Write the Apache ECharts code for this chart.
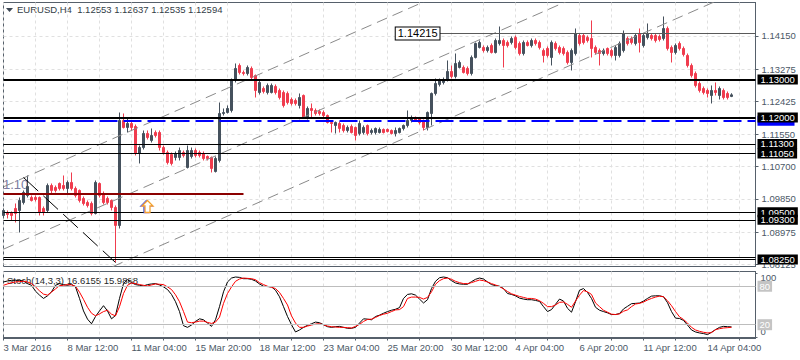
<!DOCTYPE html>
<html><head><meta charset="utf-8">
<script src="https://cdn.jsdelivr.net/npm/echarts@6/dist/echarts.min.js"></script>
<style>html,body{margin:0;padding:0;background:#fff}#c{width:800px;height:360px}</style>
</head><body><div id="c"></div>
<script>
const symbolName = 'EURUSD,H4';
const xTickLabels = ['3 Mar 2016','8 Mar 12:00','11 Mar 04:00','15 Mar 20:00','18 Mar 12:00','23 Mar 04:00','25 Mar 20:00','30 Mar 12:00','4 Apr 04:00','6 Apr 20:00','11 Apr 12:00','14 Apr 04:00'];
const priceTicks = [1.1415, 1.13275, 1.12425, 1.1155, 1.107, 1.0985, 1.08975, 1.08125];
const stochTicks = [0, 100];

const opens = [
1.09413,1.09492,1.09492,1.09598,1.09545,1.09756,1.09941,1.09888,1.09888,1.09888,
1.09598,1.09545,1.10204,1.10152,1.10257,1.10204,1.10125,1.10284,1.10125,1.10073,
1.09862,1.09756,1.09730,1.09466,1.10257,1.09994,1.09862,1.09809,1.09624,1.09150,
1.11919,1.11734,1.11839,1.11760,1.11048,1.11206,1.11576,1.11391,1.11602,1.11602,
1.11206,1.11075,1.11022,1.10943,1.10943,1.11075,1.10679,1.10969,1.11127,1.11075,
1.11048,1.10969,1.10943,1.10574,1.10864,1.12103,1.12129,1.12182,1.12973,1.13369,
1.13184,1.13158,1.13290,1.13105,1.12657,1.12762,1.12657,1.12657,1.12815,1.12710,
1.12657,1.12631,1.12472,1.12446,1.12314,1.12578,1.11998,1.12235,1.12182,1.12156,
1.12129,1.12050,1.11866,1.11787,1.11839,1.11787,1.11655,1.11760,1.11734,1.11576,
1.11602,1.11787,1.11602,1.11602,1.11602,1.11681,1.11681,1.11655,1.11576,1.11602,
1.11708,1.11787,1.11919,1.11998,1.11971,1.11919,1.11734,1.12103,1.12631,1.12868,
1.12921,1.12973,1.13211,1.13079,1.13316,1.13316,1.13290,1.13158,1.13580,1.13844,
1.13844,1.13764,1.13896,1.13712,1.13949,1.14028,1.13975,1.13975,1.14107,1.13949,
1.13685,1.13975,1.13896,1.14028,1.13975,1.13764,1.13817,1.13580,1.13949,1.13844,
1.13817,1.13712,1.13448,1.13685,1.14160,1.14160,1.14107,1.14081,1.13844,1.13764,
1.13685,1.13817,1.13764,1.13633,1.13633,1.13764,1.14081,1.14081,1.13949,1.14213,
1.13896,1.14107,1.14160,1.14160,1.14134,1.14081,1.14345,1.13844,1.13712,1.13949,
1.13817,1.13633,1.13369,1.13158,1.12894,1.12762,1.12710,1.12578,1.12710,1.12578,
1.12710,1.12631,1.12553];
const closes = [
1.09545,1.09440,1.09413,1.09466,1.09809,1.10020,1.10178,1.09809,1.09835,1.09492,
1.09492,1.10204,1.10073,1.10073,1.10125,1.10125,1.10284,1.10125,1.09941,1.09809,
1.09730,1.09677,1.09466,1.10284,1.09941,1.09756,1.09756,1.09624,1.09150,1.11919,
1.11734,1.11839,1.11734,1.11048,1.11206,1.11576,1.11470,1.11523,1.11523,1.11206,
1.11075,1.10811,1.10785,1.11048,1.11127,1.10996,1.11127,1.11127,1.10996,1.10996,
1.10916,1.10916,1.10653,1.10916,1.12103,1.12129,1.12235,1.12973,1.13290,1.13184,
1.13158,1.13316,1.13052,1.12710,1.12921,1.12683,1.12842,1.12842,1.12657,1.12525,
1.12314,1.12393,1.12367,1.12367,1.12525,1.11998,1.12235,1.12182,1.12103,1.12103,
1.12050,1.11866,1.11839,1.11866,1.11708,1.11655,1.11734,1.11602,1.11523,1.11839,
1.11734,1.11576,1.11655,1.11708,1.11681,1.11602,1.11628,1.11576,1.11655,1.11708,
1.11787,1.11919,1.11971,1.11919,1.11866,1.11734,1.12129,1.12631,1.12894,1.12973,
1.13000,1.13211,1.13079,1.13422,1.13448,1.13184,1.13158,1.13580,1.13949,1.13975,
1.13764,1.13844,1.13712,1.14028,1.14028,1.13896,1.13896,1.14081,1.13844,1.13685,
1.13975,1.13896,1.14028,1.13949,1.13844,1.13633,1.13633,1.13975,1.13817,1.13712,
1.13685,1.13448,1.13764,1.14213,1.13949,1.13975,1.14028,1.13817,1.13712,1.13685,
1.13764,1.13685,1.13633,1.13844,1.13949,1.14213,1.13949,1.13975,1.14160,1.13975,
1.14160,1.14213,1.14081,1.14028,1.14055,1.14345,1.13817,1.13712,1.13896,1.13817,
1.13659,1.13369,1.13105,1.12842,1.12710,1.12657,1.12631,1.12710,1.12657,1.12762,
1.12525,1.12525,1.12594];
const lows = [
1.09360,1.09334,1.09281,1.09229,1.08965,1.09703,1.09888,1.09782,1.09782,1.09413,
1.09413,1.09492,1.09994,1.10020,1.10073,1.10073,1.09994,1.10073,1.09888,1.09756,
1.09677,1.09624,1.09413,1.09440,1.09888,1.09703,1.09703,1.09545,1.08174,1.09070,
1.11708,1.11602,1.11655,1.10996,1.10785,1.11154,1.11417,1.11338,1.11470,1.11127,
1.11022,1.10758,1.10732,1.10864,1.10864,1.10943,1.10653,1.10916,1.10943,1.10943,
1.10864,1.10864,1.10547,1.10547,1.10811,1.12050,1.12103,1.12129,1.12921,1.13132,
1.13105,1.13105,1.13000,1.12525,1.12604,1.12631,1.12604,1.12631,1.12604,1.12472,
1.12261,1.12340,1.12314,1.12314,1.12235,1.11971,1.11945,1.11998,1.12050,1.12050,
1.11998,1.11839,1.11602,1.11576,1.11602,1.11602,1.11602,1.11576,1.11391,1.11523,
1.11549,1.11523,1.11549,1.11549,1.11576,1.11576,1.11602,1.11549,1.11497,1.11576,
1.11655,1.11734,1.11866,1.11892,1.11813,1.11655,1.11655,1.11787,1.12578,1.12815,
1.12868,1.12947,1.13026,1.13026,1.13290,1.13158,1.13105,1.13105,1.13554,1.13817,
1.13712,1.13712,1.13685,1.13685,1.13896,1.13316,1.13844,1.13923,1.13791,1.13633,
1.13633,1.13870,1.13844,1.13896,1.13791,1.13448,1.13580,1.13369,1.13764,1.13659,
1.13633,1.13395,1.13237,1.13633,1.13896,1.13923,1.13975,1.13580,1.13659,1.13369,
1.13633,1.13633,1.13580,1.13501,1.13580,1.13712,1.13896,1.13923,1.13896,1.13712,
1.13844,1.14055,1.14028,1.13975,1.14002,1.14028,1.13764,1.13448,1.13659,1.13764,
1.13606,1.13316,1.13052,1.12789,1.12657,1.12604,1.12525,1.12367,1.12578,1.12472,
1.12472,1.12472,1.12535];
const highs = [
1.09598,1.09545,1.09519,1.09730,1.09888,1.10073,1.10468,1.09941,1.09941,1.09915,
1.09651,1.10257,1.10257,1.10204,1.10284,1.10468,1.10336,1.10547,1.10178,1.10099,
1.09915,1.09809,1.09782,1.10336,1.10284,1.10046,1.09915,1.09835,1.09677,1.12129,
1.12103,1.11998,1.11892,1.11813,1.11259,1.11655,1.11655,1.11708,1.11655,1.11655,
1.11259,1.11127,1.11075,1.11101,1.11206,1.11127,1.11259,1.11206,1.11180,1.11127,
1.11101,1.10996,1.10969,1.10969,1.12393,1.12235,1.12314,1.13026,1.13422,1.13422,
1.13237,1.13369,1.13343,1.13132,1.12973,1.12815,1.12894,1.12894,1.12868,1.12762,
1.12710,1.12683,1.12525,1.12499,1.12631,1.12604,1.12288,1.12367,1.12235,1.12209,
1.12182,1.12077,1.11919,1.11892,1.11892,1.11839,1.11787,1.11813,1.11760,1.11919,
1.11787,1.11813,1.11708,1.11734,1.11734,1.11708,1.11708,1.11681,1.11734,1.11734,
1.11813,1.12182,1.12050,1.12024,1.11998,1.11945,1.12156,1.12657,1.13026,1.13026,
1.13052,1.13501,1.13369,1.13685,1.13501,1.13369,1.13343,1.13633,1.13975,1.14028,
1.13896,1.13896,1.13949,1.14081,1.14397,1.14081,1.14028,1.14134,1.14160,1.14002,
1.14028,1.14028,1.14081,1.14081,1.14028,1.13817,1.13870,1.14028,1.14002,1.13896,
1.13870,1.13764,1.13817,1.14345,1.14213,1.14213,1.14160,1.14556,1.13896,1.13817,
1.13817,1.13844,1.13817,1.13896,1.14002,1.14292,1.14134,1.14134,1.14213,1.14345,
1.14213,1.14477,1.14213,1.14213,1.14186,1.14661,1.14397,1.13896,1.13949,1.14002,
1.13870,1.13685,1.13422,1.13211,1.12947,1.12815,1.12762,1.12842,1.12921,1.12815,
1.12762,1.12683,1.12637];

const stochK = [
86.7,88.2,89.2,89.2,89.2,88.2,84.1,81.5,72.3,66.2,
61.0,65.1,71.3,81.5,84.1,82.6,81.5,83.1,79.0,61.0,
41.5,28.7,21.5,32.8,41.5,49.7,41.5,29.2,34.4,61.0,
84.1,90.2,85.6,82.6,81.5,80.5,82.6,83.6,84.1,82.0,
79.0,74.9,67.2,55.9,40.5,18.5,15.9,19.5,25.1,29.2,
27.7,22.6,17.4,27.7,48.2,71.3,86.7,92.8,94.4,93.8,
91.8,91.8,90.8,88.2,83.6,80.0,79.5,79.0,73.8,63.6,
48.2,32.8,20.0,8.7,11.8,15.9,19.0,21.5,24.1,23.1,
20.0,16.9,15.9,16.9,17.4,15.9,14.4,14.4,15.9,22.6,
29.2,28.7,27.7,32.8,34.9,37.9,40.5,42.6,44.1,46.7,
61.0,67.2,68.2,66.2,60.0,53.9,59.0,76.4,87.7,93.3,
94.4,93.3,88.7,85.1,83.6,83.1,83.1,87.2,90.8,92.8,
91.3,86.7,82.6,81.0,80.0,76.4,68.7,67.2,65.1,61.5,
60.0,59.0,59.0,57.9,56.4,48.2,40.5,43.6,51.8,60.0,
56.9,45.6,39.5,55.9,73.8,76.4,70.3,61.0,47.2,42.6,
40.5,38.5,35.9,35.9,37.4,44.6,48.7,52.8,53.3,53.8,
56.9,61.0,64.6,65.1,65.1,63.6,54.4,40.5,30.3,29.7,
26.7,19.5,11.8,8.7,7.2,6.2,4.6,8.2,12.3,15.9,
17.4,16.9,16.6155];
const stochD = [
81.5,83.6,85.6,86.7,87.2,87.7,86.7,84.1,79.0,72.8,
67.7,66.2,70.8,75.9,81.0,81.5,82.6,82.0,80.0,70.8,
59.5,47.2,37.9,33.8,36.9,40.5,42.6,36.4,33.8,48.2,
68.7,81.5,85.1,84.1,82.6,81.5,80.5,82.0,83.6,83.1,
82.6,79.0,74.9,66.7,55.9,40.5,24.1,23.1,24.1,25.6,
25.6,23.6,22.0,24.1,31.8,53.3,68.7,79.0,87.7,91.3,
92.8,92.3,91.8,90.2,85.6,82.6,80.0,78.5,76.4,70.3,
61.0,50.8,33.8,22.6,15.9,15.9,17.9,19.5,21.0,21.5,
20.0,17.9,16.9,16.4,15.9,15.9,15.4,14.9,17.4,20.5,
25.1,28.2,28.7,31.3,34.4,36.4,37.9,40.5,43.1,43.6,
48.2,61.0,63.1,63.1,62.6,60.0,62.6,71.3,83.1,88.7,
91.8,92.8,90.8,87.7,85.6,84.1,84.1,85.6,87.7,89.7,
88.7,86.7,84.1,82.0,79.5,75.9,71.8,68.2,66.2,64.1,
62.6,61.0,61.0,60.0,57.4,53.3,48.2,48.2,50.8,54.9,
55.4,51.8,47.2,56.9,66.2,73.3,71.3,67.2,53.9,48.2,
42.6,39.5,36.4,35.9,36.9,41.0,43.1,48.2,52.3,53.3,
55.4,58.5,61.0,63.1,64.6,63.6,57.4,49.7,40.5,32.3,
28.2,22.6,15.9,11.8,9.7,8.2,7.2,7.7,12.3,13.8,
14.9,15.4,15.9888];

// chart objects (prices / bar indexes)
const thickLevels = [1.13, 1.12];
const thinLevels = [1.113, 1.1105, 1.095, 1.093, 1.0825];
const unlabeledLevels = [1.083];
const blueLevel = 1.11911;
const redSegment = {from: 0, to: 60, price: 1.0999};
const hLine = {from: 109, to: 188, price: 1.14215};
const channels = [
  [[0, 1.10170], [188, 1.18896]],
  [[0, 1.08525], [188, 1.17251]],
  [[0, 1.06797], [188, 1.15523]]
];
const zigzag = [[5, 1.10415], [28, 1.08174]];
const arrowPoint = [36, 1.0965];
const stochLevels = [80, 20];
const textLabel110 = '1.10';

const N = 189;
const categories = Array.from({length: N}, (_, i) => String(i));
const candleData = opens.map((o, i) => [o, closes[i], lows[i], highs[i]]);
const last = opens.length - 1;

const FONT = '"Liberation Sans", Arial, sans-serif';
const FRAME = '#56606b';
const TXT = '#4b5866';
const GRIDC = '#e0e0e0';

const chart = echarts.init(document.getElementById('c'), null, {renderer: 'svg', width: 800, height: 360});

function boxLabel(text, bg) {
  return {show: true, position: 'end', distance: 2, formatter: () => text,
    backgroundColor: bg, color: '#fff', padding: [0, 3, 0, 3], lineHeight: 10, fontSize: 9.5, fontFamily: FONT};
}
const levelLines = [];
levelLines.push({yAxis: blueLevel, lineStyle: {color: '#0000ff', width: 2, type: [18, 6]},
  label: {show: true, position: 'end', distance: 2, formatter: () => ' ', backgroundColor: '#0000ff', width: 37, height: 10, padding: 0}});
unlabeledLevels.forEach(v => levelLines.push({yAxis: v, lineStyle: {color: '#000', width: 1, type: 'solid'}, label: {show: false}}));
thinLevels.forEach(v => levelLines.push({yAxis: v, lineStyle: {color: '#000', width: 1, type: 'solid'}, label: boxLabel(v.toFixed(5), '#000')}));
thickLevels.forEach(v => levelLines.push({yAxis: v, lineStyle: {color: '#000', width: 2, type: 'solid'}, label: boxLabel(v.toFixed(5), '#000')}));
levelLines.push({yAxis: closes[last], lineStyle: {opacity: 0}, label: boxLabel(closes[last].toFixed(5), '#5f6a75')});
const redStyle = {color: '#8b0000', width: 2, type: 'solid'};
levelLines.push([
  {coord: [redSegment.from, redSegment.price], lineStyle: redStyle, label: {show: false}},
  {coord: [redSegment.to, redSegment.price], lineStyle: redStyle, label: {show: false}}
]);
const hStyle = {color: '#5a5a5a', width: 1, type: 'solid'};
const hLab = {show: true, position: 'start', distance: 0, formatter: () => hLine.price.toFixed(5),
  backgroundColor: '#fff', borderColor: '#000', borderWidth: 1, color: '#000', padding: [1, 2, 0, 2], fontSize: 11, fontFamily: FONT};
levelLines.push([
  {coord: [hLine.from, hLine.price], lineStyle: hStyle, label: hLab},
  {coord: [hLine.to, hLine.price], lineStyle: hStyle, label: hLab}
]);

const channelSeries = channels.map(c => ({
  type: 'line', xAxisIndex: 0, yAxisIndex: 0, data: c, showSymbol: false, symbol: 'none', silent: true, z: 4,
  lineStyle: {color: '#8a8a8a', width: 1, type: [11, 6]}, clip: true
}));

const titleText = symbolName + '  ' + [opens[last], highs[last], lows[last], closes[last]].map(v => v.toFixed(5)).join(' ');
const stochText = 'Stoch(14,3,3) ' + stochK[last].toFixed(4) + ' ' + stochD[last].toFixed(4);

const option = {
  animation: false,
  backgroundColor: '#fff',
  textStyle: {fontFamily: FONT},
  grid: [
    {left: 3.5, top: 2.5, width: 752, height: 264, show: true, borderColor: FRAME, borderWidth: 1, backgroundColor: '#fff'},
    {left: 3.5, top: 271.5, width: 752, height: 67, show: true, borderColor: FRAME, borderWidth: 1, backgroundColor: '#fff'}
  ],
  xAxis: [
    {type: 'category', gridIndex: 0, data: categories, boundaryGap: false,
      axisLine: {show: false}, axisTick: {show: false}, axisLabel: {show: false},
      splitLine: {show: true, interval: 7, lineStyle: {color: GRIDC, type: [3, 3]}}},
    {type: 'category', gridIndex: 1, data: categories, boundaryGap: false,
      axisLine: {show: true, lineStyle: {color: FRAME}},
      axisTick: {show: true, interval: 7, length: 3, lineStyle: {color: FRAME}},
      axisLabel: {interval: 15, align: 'left', margin: 4, color: TXT, fontSize: 9.5, fontFamily: FONT,
        formatter: (v, idx) => xTickLabels[idx / 16] || ''},
      splitLine: {show: true, interval: 7, lineStyle: {color: GRIDC, type: [3, 3]}}}
  ],
  yAxis: [
    {type: 'value', gridIndex: 0, position: 'right', min: 1.08068, max: 1.15030,
      axisLine: {show: true, lineStyle: {color: FRAME}},
      axisTick: {show: true, length: 3, customValues: priceTicks, lineStyle: {color: FRAME}},
      axisLabel: {customValues: priceTicks, formatter: v => v.toFixed(5), color: TXT, fontSize: 9.5, fontFamily: FONT, margin: 6},
      splitLine: {show: true, lineStyle: {color: GRIDC, type: [3, 3]}}},
    {type: 'value', gridIndex: 1, position: 'right', min: -1.5, max: 103,
      axisLine: {show: true, lineStyle: {color: FRAME}},
      axisTick: {show: true, length: 2, customValues: stochTicks, lineStyle: {color: FRAME}},
      axisLabel: {show: true, customValues: stochTicks, color: TXT, fontSize: 9.5, fontFamily: FONT, margin: 5,
        formatter: v => (Number(v) >= 50 ? '{t|' : '{b|') + String(v) + '}',
        rich: {t: {padding: [9, 0, 0, 0], color: TXT, fontSize: 9.5, fontFamily: FONT},
               b: {padding: [0, 0, 12, 0], color: TXT, fontSize: 9.5, fontFamily: FONT}}},
      splitLine: {show: false}}
  ],
  graphic: [
    {type: 'polygon', shape: {points: [[6, 8], [13, 8], [9.5, 12]]}, style: {fill: '#3b4652'}},
    {type: 'text', left: 17, top: 4, style: {text: titleText, fontSize: 9.5, fontFamily: FONT, fill: '#333d47'}},
    {type: 'text', left: 3, top: 178, style: {text: textLabel110, fontSize: 13, fontFamily: FONT, fill: '#7b7ba0'}},
    {type: 'text', left: 7, top: 275, style: {text: stochText, fontSize: 9.5, fontFamily: FONT, fill: '#2a2a2a'}}
  ],
  series: [
    {type: 'candlestick', xAxisIndex: 0, yAxisIndex: 0, data: candleData, barWidth: 2,
      itemStyle: {color: '#45515d', color0: '#f03c4e', borderColor: '#45515d', borderColor0: '#f03c4e', borderWidth: 1},
      markLine: {symbol: ['none', 'none'], silent: true, animation: false, precision: 5, data: levelLines},
      markPoint: {silent: true, animation: false, data: [{
        coord: arrowPoint, symbol: 'path://M5.5,0 L11,6 L8,6 L8,13 L3,13 L3,6 L0,6 Z', symbolSize: [11, 12],
        itemStyle: {color: '#fff', borderColor: '#f2a02a', borderWidth: 1.3, shadowColor: '#2050d0', shadowOffsetX: -1, shadowOffsetY: 0, shadowBlur: 0},
        label: {show: false}}]}
    },
    ...channelSeries,
    {type: 'line', xAxisIndex: 0, yAxisIndex: 0, data: zigzag, symbol: 'none', silent: true, z: 4,
      lineStyle: {color: '#000', width: 1, type: [20, 7]}},
    {type: 'line', xAxisIndex: 1, yAxisIndex: 1, data: stochK, symbol: 'none', silent: true,
      lineStyle: {color: '#000', width: 1},
      markLine: {symbol: ['none', 'none'], silent: true, animation: false,
        data: stochLevels.map(v => ({yAxis: v, lineStyle: {color: '#bdbdbd', width: 1, type: 'solid'},
          label: {show: true, position: 'end', distance: 2, formatter: () => String(v), backgroundColor: '#c4c4c4', color: '#fff', padding: [1, 2, 0, 2], fontSize: 9.5, fontFamily: FONT}}))}},
    {type: 'line', xAxisIndex: 1, yAxisIndex: 1, data: stochD, symbol: 'none', silent: true,
      lineStyle: {color: '#ff0000', width: 1}}
  ]
};
chart.setOption(option);
</script>
</body></html>
